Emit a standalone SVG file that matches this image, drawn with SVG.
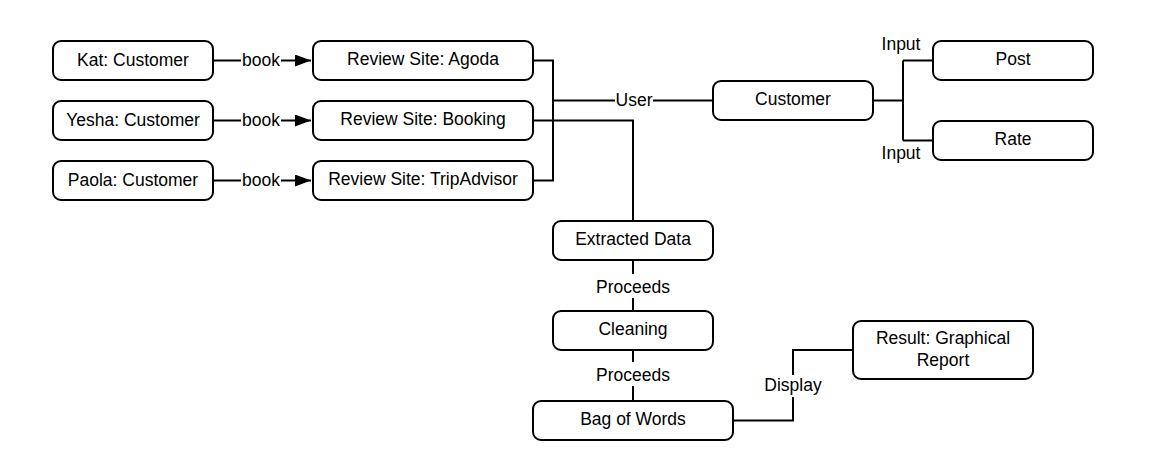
<svg xmlns="http://www.w3.org/2000/svg" width="1151" height="466" viewBox="0 0 1151 466">
<style>
.box{fill:#fff;stroke:#000;stroke-width:2}
.t{font-family:"Liberation Sans",Arial,sans-serif;font-size:17.5px;fill:#000;text-anchor:middle}
.ln{fill:none;stroke:#000;stroke-width:2}
.bg{fill:#fff}
</style>
<defs>
<marker id="arr" markerUnits="userSpaceOnUse" markerWidth="18" markerHeight="14" refX="16" refY="6" orient="auto">
<path d="M0,0 L16,6 L0,12 Z" fill="#000"/>
</marker>
</defs>
<rect width="1151" height="466" fill="#fff"/>
<g id="connectors">
<path class="ln" d="M213,60.5 H311" marker-end="url(#arr)"/>
<path class="ln" d="M213,120.5 H311" marker-end="url(#arr)"/>
<path class="ln" d="M213,180.5 H311" marker-end="url(#arr)"/>
<rect class="bg" x="241" y="48" width="40" height="22"/>
<text class="t" x="261" y="65.5">book</text>
<rect class="bg" x="241" y="108" width="40" height="22"/>
<text class="t" x="261" y="125.5">book</text>
<rect class="bg" x="241" y="168" width="40" height="22"/>
<text class="t" x="261" y="185.5">book</text>
<path class="ln" d="M533,60.5 H553 V180.5 H533"/>
<path class="ln" d="M553,100.5 H713"/>
<rect class="bg" x="615" y="88" width="38" height="22"/>
<text class="t" x="634" y="105.5">User</text>
<path class="ln" d="M533,120.5 H633 V221"/>
<path class="ln" d="M873,100.5 H903 M903,60.5 V140.5 M903,60.5 H933 M903,140.5 H933"/>
<text class="t" x="901" y="50">Input</text>
<text class="t" x="901" y="159">Input</text>
<path class="ln" d="M633,260 V311"/>
<rect class="bg" x="593" y="274" width="80" height="24"/>
<text class="t" x="633" y="293">Proceeds</text>
<path class="ln" d="M633,350 V401"/>
<rect class="bg" x="593" y="362" width="80" height="24"/>
<text class="t" x="633" y="381">Proceeds</text>
<path class="ln" d="M733,420.5 H793 V350 H853"/>
<rect class="bg" x="762" y="375" width="62" height="22"/>
<text class="t" x="793" y="391">Display</text>
</g>
<g id="kat"><rect class="box" x="53" y="41" width="160" height="39" rx="8"/><text class="t" x="133" y="65.7">Kat: Customer</text></g>
<g id="yesha"><rect class="box" x="53" y="101" width="160" height="39" rx="8"/><text class="t" x="133" y="125.7">Yesha: Customer</text></g>
<g id="paola"><rect class="box" x="53" y="161" width="160" height="39" rx="8"/><text class="t" x="133" y="185.7">Paola: Customer</text></g>
<g id="agoda"><rect class="box" x="313" y="41" width="220" height="39" rx="8"/><text class="t" x="423" y="65.3">Review Site: Agoda</text></g>
<g id="booking"><rect class="box" x="313" y="101" width="220" height="39" rx="8"/><text class="t" x="423" y="125.3">Review Site: Booking</text></g>
<g id="tripadvisor"><rect class="box" x="313" y="161" width="220" height="39" rx="8"/><text class="t" x="423" y="185.3">Review Site: TripAdvisor</text></g>
<g id="customer"><rect class="box" x="713" y="81" width="160" height="39" rx="8"/><text class="t" x="793" y="105.2">Customer</text></g>
<g id="post"><rect class="box" x="933" y="41" width="160" height="39" rx="8"/><text class="t" x="1013" y="65">Post</text></g>
<g id="rate"><rect class="box" x="933" y="121" width="160" height="39" rx="8"/><text class="t" x="1013" y="145">Rate</text></g>
<g id="extracted"><rect class="box" x="553" y="221" width="160" height="39" rx="8"/><text class="t" x="633" y="245">Extracted Data</text></g>
<g id="cleaning"><rect class="box" x="553" y="311" width="160" height="39" rx="8"/><text class="t" x="633" y="335">Cleaning</text></g>
<g id="bagofwords"><rect class="box" x="533" y="401" width="200" height="39" rx="8"/><text class="t" x="633" y="425">Bag of Words</text></g>
<g id="result"><rect class="box" x="853" y="321" width="180" height="58" rx="8"/><text class="t" x="943" y="344">Result: Graphical</text><text class="t" x="943" y="365.5">Report</text></g>
</svg>
